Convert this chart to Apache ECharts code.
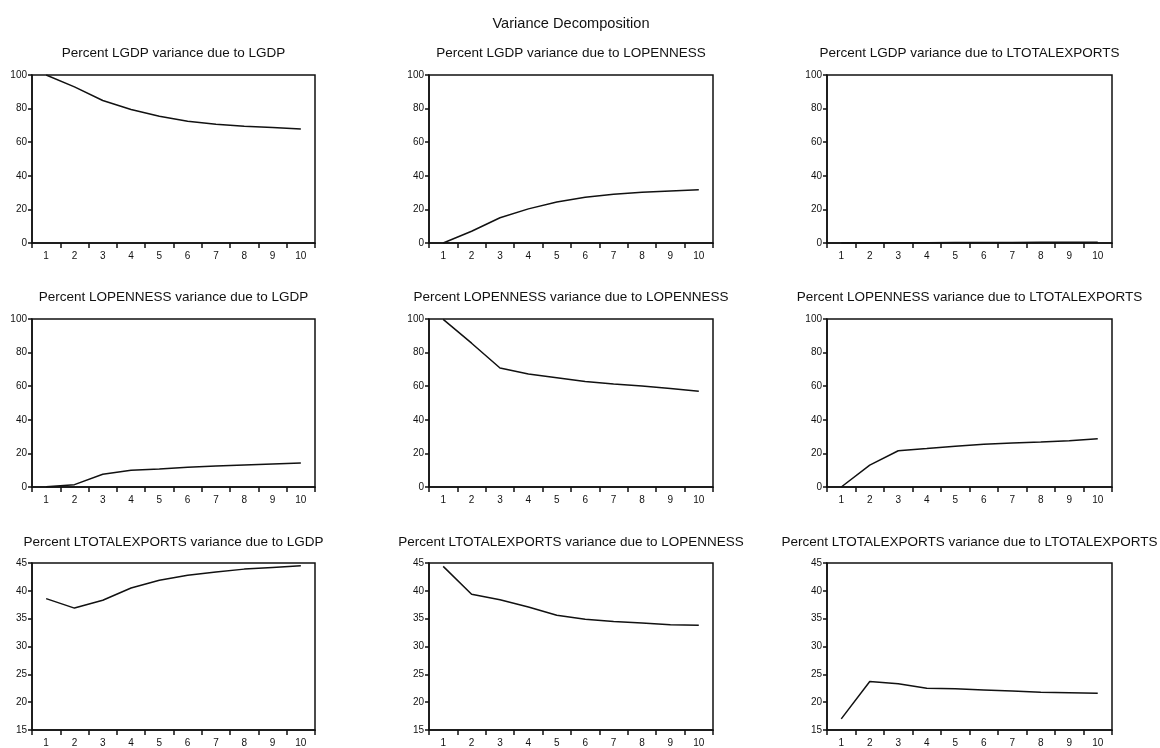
<!DOCTYPE html>
<html>
<head>
<meta charset="utf-8">
<script src="https://cdn.jsdelivr.net/npm/echarts@6/dist/echarts.min.js"></script>
<style>
  html, body { margin: 0; padding: 0; background: #fff; }
  #chart { width: 1160px; height: 748px; }
</style>
</head>
<body>
<div id="chart"></div>
<script>
// periods on the x axis
var periods = ['1', '2', '3', '4', '5', '6', '7', '8', '9', '10'];

// Percent LGDP variance
var lgdpDueLgdp = [100, 92.9, 84.8, 79.5, 75.4, 72.5, 70.7, 69.5, 68.7, 67.8];
var lgdpDueLopen = [0, 7.0, 15.0, 20.3, 24.4, 27.2, 29.0, 30.2, 31.0, 31.7];
var lgdpDueLexp = [0, 0.1, 0.15, 0.2, 0.25, 0.3, 0.35, 0.4, 0.45, 0.5];

// Percent LOPENNESS variance
var lopenDueLgdp = [0.2, 1.4, 7.6, 9.9, 10.7, 11.7, 12.5, 13.1, 13.7, 14.3];
var lopenDueLopen = [99.8, 85.6, 70.8, 67.2, 65.0, 62.8, 61.3, 60.1, 58.7, 57.0];
var lopenDueLexp = [0, 13.0, 21.6, 22.9, 24.3, 25.5, 26.2, 26.8, 27.6, 28.7];

// Percent LTOTALEXPORTS variance
var lexpDueLgdp = [38.6, 36.9, 38.3, 40.5, 41.9, 42.8, 43.4, 43.9, 44.2, 44.5];
var lexpDueLopen = [44.4, 39.4, 38.4, 37.1, 35.6, 34.9, 34.5, 34.2, 33.9, 33.8];
var lexpDueLexp = [17.0, 23.7, 23.3, 22.5, 22.4, 22.2, 22.0, 21.8, 21.7, 21.6];

var panelTitles = [
  'Percent LGDP variance due to LGDP',
  'Percent LGDP variance due to LOPENNESS',
  'Percent LGDP variance due to LTOTALEXPORTS',
  'Percent LOPENNESS variance due to LGDP',
  'Percent LOPENNESS variance due to LOPENNESS',
  'Percent LOPENNESS variance due to LTOTALEXPORTS',
  'Percent LTOTALEXPORTS variance due to LGDP',
  'Percent LTOTALEXPORTS variance due to LOPENNESS',
  'Percent LTOTALEXPORTS variance due to LTOTALEXPORTS'
];
var panelData = [
  lgdpDueLgdp, lgdpDueLopen, lgdpDueLexp,
  lopenDueLgdp, lopenDueLopen, lopenDueLexp,
  lexpDueLgdp, lexpDueLopen, lexpDueLexp
];
var rowRanges = [[0, 100, 20], [0, 100, 20], [15, 45, 5]];

var dom = document.getElementById('chart');
var myChart = echarts.init(dom);

// layout of the 3x3 panels
var colLeft = [32, 429, 827];
var colWidth = [283, 284, 285];
var rowTop = [75, 319, 563];
var rowHeight = [168, 168, 169];
var titleTop = [46, 290, 535];

var font = 'Liberation Sans, Arial, sans-serif';

var titles = [{
  text: 'Variance Decomposition',
  left: 571,
  top: 16,
  textAlign: 'center',
  padding: 0,
  textStyle: { fontFamily: font, fontSize: 14.6, fontWeight: 'normal', color: '#111' }
}];
var grids = [], xAxes = [], yAxes = [], series = [];

for (var i = 0; i < 9; i++) {
  var r = Math.floor(i / 3), c = i % 3;
  titles.push({
    text: panelTitles[i],
    left: colLeft[c] + colWidth[c] / 2,
    top: titleTop[r],
    textAlign: 'center',
    padding: 0,
    textStyle: { fontFamily: font, fontSize: 13.5, fontWeight: 'normal', color: '#111' }
  });
  grids.push({
    left: colLeft[c],
    top: rowTop[r],
    width: colWidth[c],
    height: rowHeight[r],
    show: true,
    borderColor: '#111',
    borderWidth: 1.5,
    backgroundColor: 'transparent'
  });
  xAxes.push({
    type: 'category',
    gridIndex: i,
    data: periods,
    boundaryGap: true,
    axisLine: { lineStyle: { color: '#111', width: 1.5 } },
    axisTick: { show: true, length: 5, inside: false, lineStyle: { color: '#111', width: 1.5 } },
    axisLabel: { fontFamily: font, fontSize: 10, color: '#111', margin: 8, interval: 0 },
    splitLine: { show: false }
  });
  yAxes.push({
    type: 'value',
    gridIndex: i,
    min: rowRanges[r][0],
    max: rowRanges[r][1],
    interval: rowRanges[r][2],
    axisLine: { show: true, lineStyle: { color: '#111', width: 1.5 } },
    axisTick: { show: true, length: 4, inside: false, lineStyle: { color: '#111', width: 1.5 } },
    axisLabel: { fontFamily: font, fontSize: 10, color: '#111', margin: 5 },
    splitLine: { show: false }
  });
  series.push({
    type: 'line',
    xAxisIndex: i,
    yAxisIndex: i,
    data: panelData[i],
    showSymbol: false,
    symbol: 'none',
    lineStyle: { color: '#111', width: 1.5 },
    animation: false
  });
}

var option = {
  backgroundColor: '#fff',
  animation: false,
  title: titles,
  grid: grids,
  xAxis: xAxes,
  yAxis: yAxes,
  series: series
};

myChart.setOption(option);
</script>
</body>
</html>
